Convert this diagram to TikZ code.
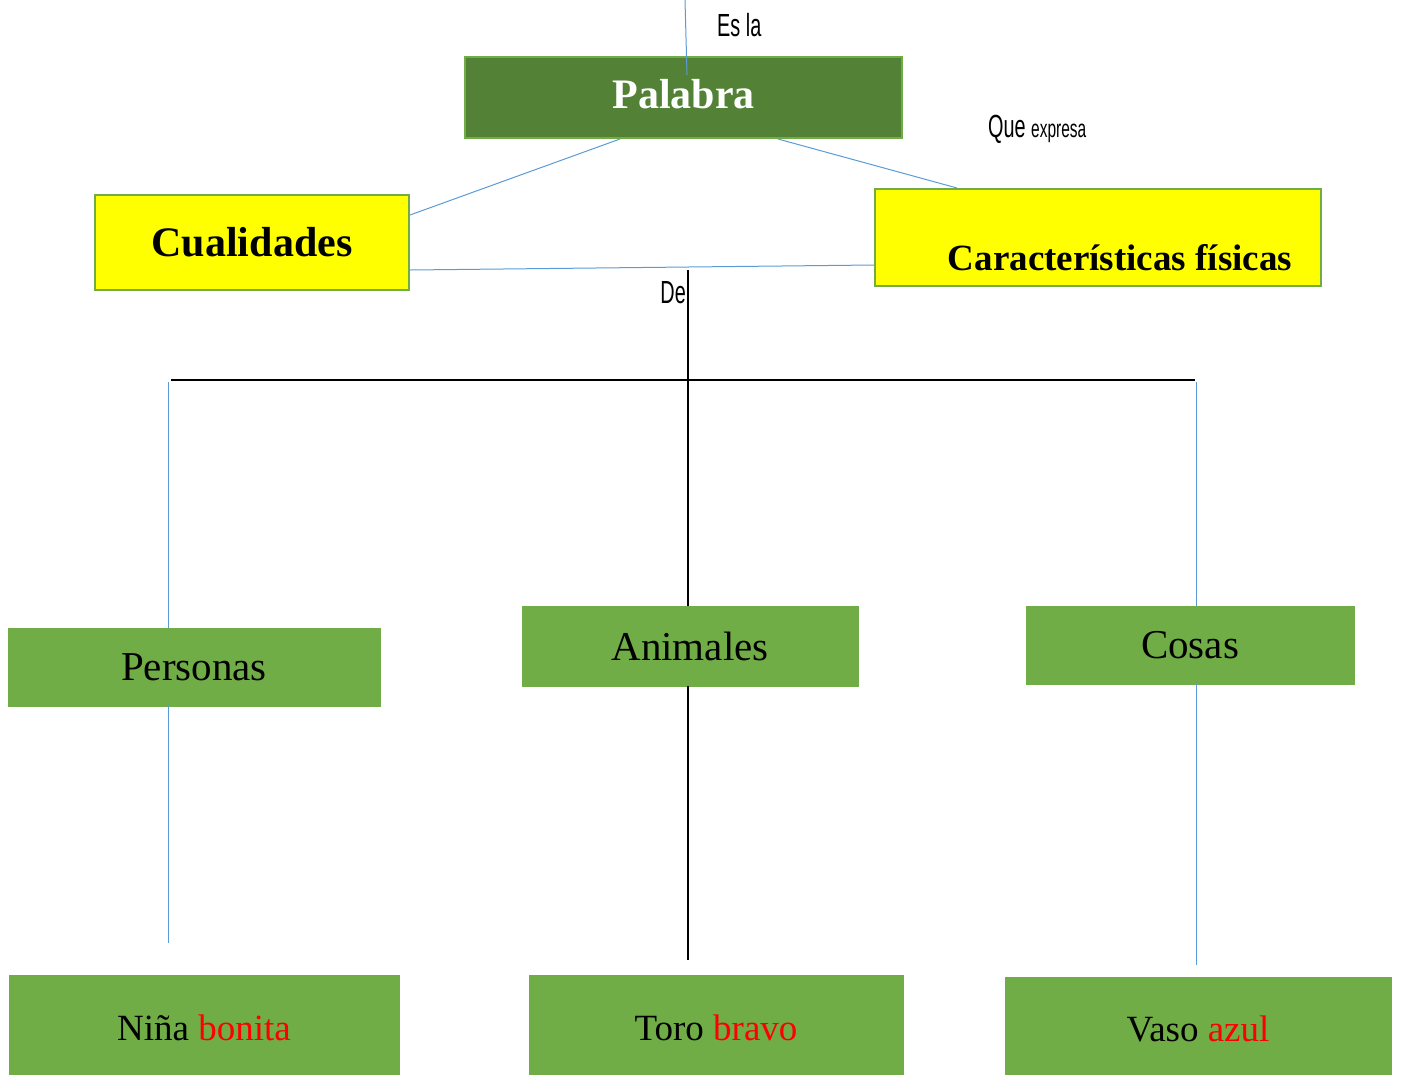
\documentclass[tikz,border=0pt]{standalone}
\usepackage{fontspec}
\setmainfont{Liberation Serif}
\newfontfamily\tagfont[FakeStretch=0.62]{Liberation Sans}
\definecolor{darkleaf}{HTML}{538135}
\definecolor{leaf}{HTML}{70AD47}
\definecolor{sky}{HTML}{5B9BD5}
\definecolor{sun}{RGB}{255,255,0}
\tikzset{
  topbox/.style={draw=leaf, fill=darkleaf, line width=2pt, inner sep=0pt, text=white, font=\fontsize{42}{48}\selectfont\bfseries},
  yellowbox/.style={draw=leaf, fill=sun, line width=2pt, inner sep=0pt, font=\fontsize{42}{48}\selectfont\bfseries},
  greenbox/.style={draw=leaf, fill=leaf, line width=0.8pt, inner sep=0pt, font=\fontsize{41}{48}\selectfont},
  examplebox/.style={greenbox, font=\fontsize{37}{44}\selectfont},
  tag/.style={inner sep=0pt, font=\tagfont\fontsize{32}{36}\selectfont},
  blueline/.style={draw=sky, line width=1pt},
  blackline/.style={draw=black, line width=1.2pt}
}
\begin{document}
\begin{tikzpicture}[x=1pt, y=-1pt]
				\useasboundingbox (0,0) rectangle (1402,1074);

				\node (Palabra) [topbox, minimum width=437, minimum height=81, text depth=8pt] at (683.5, 97.5) {Palabra};
				\coordinate (EsTop) at (685, 0);
				\coordinate (EsEnd) at (687, 75);
				\draw [blueline] (EsTop) -- (EsEnd);
				\node (EsLa) [tag, anchor=base west] at (717, 36) {Es la};

				\node (Cualidades) [yellowbox, minimum width=314, minimum height=95] at (252, 242.5) {Cualidades};
				\draw [blueline] ([xshift=-63.5]Palabra.south) -- ([yshift=27.5]Cualidades.east);

				\node (Caract) [yellowbox, minimum width=446, minimum height=97] at (1098, 237.5) {};
				\node (CaractText) [inner sep=0pt, anchor=base, font=\fontsize{37}{44}\selectfont\bfseries] at (1120, 270) {Características físicas};
				\draw [blueline] ([xshift=94.5]Palabra.south) -- ([xshift=-141]Caract.north);
				\node (Expresa) [tag, anchor=base west] at (988, 137) {Que {\fontsize{25}{28}\selectfont expresa}};

				\draw [blueline] ([yshift=-27.5]Cualidades.east) -- ([yshift=-27.5]Caract.west);

				\node (Animales) [greenbox, minimum width=336, minimum height=80] at (690, 646) {Animales};
				\coordinate (DeTop) at (688, 270);
				\draw [blackline] (DeTop) -- ([xshift=-2]Animales.north);
				\node (De) [tag, anchor=base east] at (686, 303) {De};

				\coordinate (BranchL) at (171, 380);
				\coordinate (BranchR) at (1195, 380);
				\draw [blackline] (BranchL) -- (BranchR);

				\node (Personas) [greenbox, minimum width=372, minimum height=78] at (194, 667) {Personas};
				\coordinate (PersTop) at (168, 382);
				\draw [blueline] (PersTop) -- ([xshift=-26]Personas.north);

				\node (Cosas) [greenbox, minimum width=328, minimum height=78] at (1190, 645) {Cosas};
				\coordinate (CosTop) at (1196, 382);
				\draw [blueline] (CosTop) -- ([xshift=6]Cosas.north);

				\node (Nina) [examplebox, minimum width=390, minimum height=105] at (204, 1027.5) {Niña \textcolor{red}{bonita}};
				\coordinate (PersEnd) at (168, 943);
				\draw [blueline] ([xshift=-26]Personas.south) -- (PersEnd);

				\node (Toro) [examplebox, minimum width=374, minimum height=105] at (716, 1027.5) {Toro \textcolor{red}{bravo}};
				\coordinate (AnimEnd) at (688, 960);
				\draw [blackline] ([xshift=-2]Animales.south) -- (AnimEnd);

				\node (Vaso) [examplebox, minimum width=386, minimum height=103] at (1198, 1028.5) {Vaso \textcolor{red}{azul}};
				\coordinate (CosEnd) at (1196, 965);
				\draw [blueline] ([xshift=6]Cosas.south) -- (CosEnd);
			\end{tikzpicture}
\end{document}
